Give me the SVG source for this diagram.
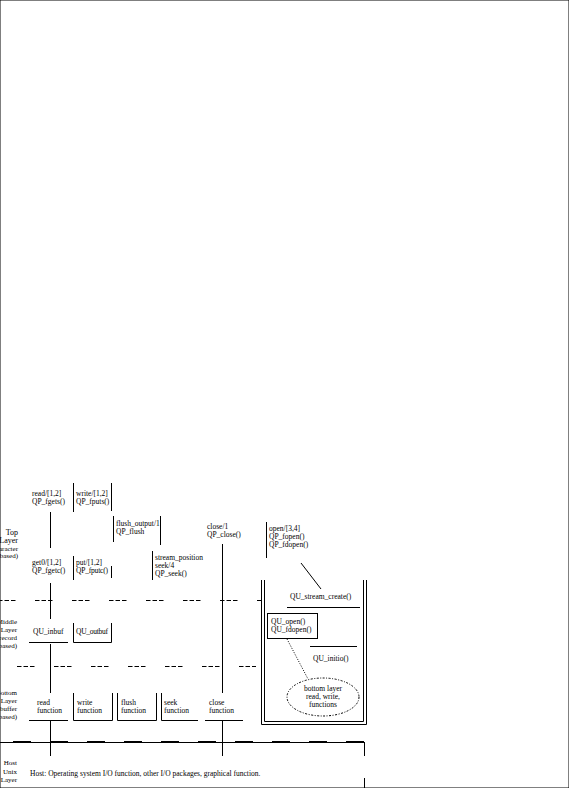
<svg xmlns="http://www.w3.org/2000/svg" width="569" height="788" viewBox="0 0 569 788">
<style>
text{font-family:"Liberation Serif","Times New Roman",serif;font-size:7.5px;fill:#000}
.lb{text-anchor:end;font-size:7px}
.lt{text-anchor:end;font-size:8px}
line,path,rect,ellipse{stroke:#000;stroke-width:1;fill:none}
.d1{stroke-dasharray:4.5 2 4.5 2 4.5 19.5}
.thick{stroke-width:2;stroke-dasharray:18 19}
.dot{stroke-dasharray:1 1.5}
.el{stroke-dasharray:2 1.5 1 1.5}
</style>
<rect x="0" y="0" width="569" height="788" fill="#fff" stroke="none"/>
<g id="labels">
<text class="lt" x="18" y="534.5">Top</text>
<text class="lt" x="18" y="542.5">Layer</text>
<text class="lb" x="18" y="550.5">(character</text>
<text class="lb" x="18" y="558">based)</text>
<text class="lb" x="17" y="624">Middle</text>
<text class="lb" x="17" y="632">Layer</text>
<text class="lb" x="17" y="640">(record</text>
<text class="lb" x="17" y="648">based)</text>
<text class="lb" x="17" y="695">Bottom</text>
<text class="lb" x="17" y="703">Layer</text>
<text class="lb" x="17" y="711">(buffer</text>
<text class="lb" x="17" y="719">based)</text>
<text class="lb" x="17" y="765">Host</text>
<text class="lb" x="17" y="773.5">Unix</text>
<text class="lb" x="17" y="782">Layer</text>
</g>
<g id="connectors">
<line x1="50.5" y1="512" x2="50.5" y2="548"/>
<line x1="50.5" y1="583" x2="50.5" y2="619"/>
<line x1="50.5" y1="644" x2="50.5" y2="693"/>
<line x1="50.5" y1="721" x2="50.5" y2="756"/>
<line x1="222.5" y1="544" x2="222.5" y2="693"/>
<line x1="222.5" y1="721" x2="222.5" y2="756"/>
<line x1="301" y1="563" x2="321" y2="589"/>
<line class="dot" x1="287" y1="639" x2="308" y2="679"/>
<line class="d1" x1="-2" y1="600.5" x2="262" y2="600.5"/>
<line class="d1" x1="17" y1="666.5" x2="256" y2="666.5"/>
<line x1="0" y1="742.5" x2="365" y2="742.5"/>
<line class="thick" x1="13" y1="742" x2="365" y2="742"/>
<line x1="364.5" y1="742" x2="364.5" y2="756"/>
<line x1="364.5" y1="778" x2="364.5" y2="788"/>
</g>
<g id="n_read">
<text x="32" y="496">read/[1,2]</text>
<text x="32" y="504">QP_fgets()</text>
</g>
<g id="n_write">
<line x1="73.5" y1="483" x2="73.5" y2="512"/>
<line x1="111.5" y1="483" x2="111.5" y2="511"/>
<text x="76" y="496">write/[1,2]</text>
<text x="76" y="504">QP_fputs()</text>
</g>
<g id="n_flush">
<line x1="113.5" y1="516" x2="113.5" y2="542"/>
<line x1="160.5" y1="516" x2="160.5" y2="545"/>
<text x="116" y="525.5">flush_output/1</text>
<text x="116" y="533.5">QP_flush</text>
</g>
<g id="n_close">
<text x="207" y="528.5">close/1</text>
<text x="207" y="536.5">QP_close()</text>
</g>
<g id="n_open">
<line x1="266.5" y1="522" x2="266.5" y2="558"/>
<text x="269" y="531">open/[3,4]</text>
<text x="269" y="539">QP_fopen()</text>
<text x="269" y="547">QP_fdopen()</text>
</g>
<g id="n_get0">
<text x="32" y="565">get0/[1,2]</text>
<text x="32" y="573">QP_fgetc()</text>
</g>
<g id="n_put">
<line x1="73.5" y1="556" x2="73.5" y2="580"/>
<line x1="111.5" y1="566" x2="111.5" y2="578"/>
<text x="76" y="565">put/[1,2]</text>
<text x="76" y="573" textLength="32">QP_fputc()</text>
</g>
<g id="n_seek">
<line x1="152.5" y1="551" x2="152.5" y2="580"/>
<text x="155" y="560">stream_position</text>
<text x="155" y="568">seek/4</text>
<text x="155" y="576">QP_seek()</text>
</g>
<g id="n_inbuf">
<text x="33" y="634">QU_inbuf</text>
<line x1="29" y1="642.5" x2="68" y2="642.5"/>
</g>
<g id="n_outbuf">
<path d="M73.5 623 V642.5 H111.5 V623"/>
<text x="76" y="634" textLength="32">QU_outbuf</text>
</g>
<g id="n_readf">
<text x="37" y="704.5">read</text>
<text x="37" y="712.5">function</text>
<line x1="29" y1="720.5" x2="68" y2="720.5"/>
</g>
<g id="n_writef">
<path d="M73.5 693 V720.5 H112.5 V693"/>
<text x="77" y="704.5">write</text>
<text x="77" y="712.5">function</text>
</g>
<g id="n_flushf">
<path d="M117.5 693 V720.5 H156.5 V693"/>
<text x="121" y="704.5">flush</text>
<text x="121" y="712.5">function</text>
</g>
<g id="n_seekf">
<path d="M161.5 693 V720.5 H198"/>
<text x="164" y="704.5">seek</text>
<text x="164" y="712.5">function</text>
</g>
<g id="n_closef">
<text x="209" y="704.5">close</text>
<text x="209" y="712.5">function</text>
<line x1="205" y1="720.5" x2="243" y2="720.5"/>
</g>
<g id="n_bottom">
<path d="M261.5 580 V724.5 H366.5 V580"/>
<path d="M264.5 580 V721.5 H363.5 V580"/>
<text x="290" y="599">QU_stream_create()</text>
<line x1="287" y1="607.5" x2="360" y2="607.5"/>
<rect x="267.5" y="613.5" width="50" height="25"/>
<text x="271" y="623.5">QU_open()</text>
<text x="271" y="631.5">QU_fdopen()</text>
<line x1="310" y1="646.5" x2="357" y2="646.5"/>
<text x="313" y="661">QU_initio()</text>
</g>
<g id="n_note">
<ellipse class="el" cx="323" cy="697" rx="36" ry="19"/>
<text x="323" y="690.5" text-anchor="middle">bottom layer</text>
<text x="323" y="698.5" text-anchor="middle">read, write,</text>
<text x="323" y="706.5" text-anchor="middle">functions</text>
</g>
<g id="n_host">
<text x="30" y="775.5">Host: Operating system I/O function, other I/O packages, graphical function.</text>
</g>
</svg>
